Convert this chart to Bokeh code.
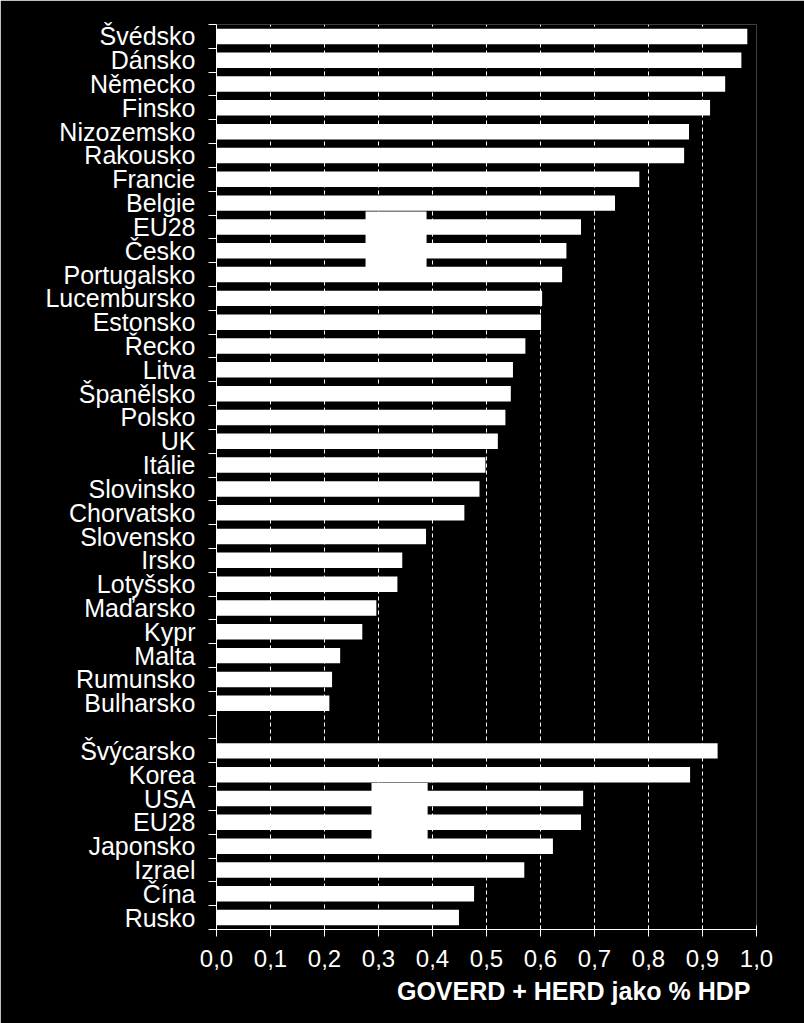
from bokeh.plotting import figure
from bokeh.models import FixedTicker, Range1d, Title
from bokeh.embed import file_html
from bokeh.resources import INLINE

# --- data -----------------------------------------------------------------
eu_countries = ["Švédsko", "Dánsko", "Německo", "Finsko", "Nizozemsko", "Rakousko",
                "Francie", "Belgie", "EU28", "Česko", "Portugalsko", "Lucembursko",
                "Estonsko", "Řecko", "Litva", "Španělsko", "Polsko", "UK", "Itálie",
                "Slovinsko", "Chorvatsko", "Slovensko", "Irsko", "Lotyšsko", "Maďarsko",
                "Kypr", "Malta", "Rumunsko", "Bulharsko"]
eu_values = [0.983, 0.972, 0.942, 0.914, 0.875, 0.866,
             0.783, 0.738, 0.675, 0.648, 0.640, 0.603,
             0.601, 0.572, 0.549, 0.545, 0.535, 0.521, 0.498,
             0.487, 0.459, 0.388, 0.344, 0.335, 0.296,
             0.270, 0.229, 0.214, 0.209]

other_countries = ["Švýcarsko", "Korea", "USA", "EU28", "Japonsko", "Izrael", "Čína", "Rusko"]
other_values = [0.928, 0.877, 0.679, 0.675, 0.623, 0.570, 0.477, 0.449]

x_ticks = [0.0, 0.1, 0.2, 0.3, 0.4, 0.5, 0.6, 0.7, 0.8, 0.9, 1.0]
x_tick_labels = ["0,0", "0,1", "0,2", "0,3", "0,4", "0,5", "0,6", "0,7", "0,8", "0,9", "1,0"]

x_title = "GOVERD + HERD jako % HDP"

# white patches in the picture: (group, first row, last row, left, right)
patch_group = ["eu", "other"]
patch_first = ["EU28", "USA"]
patch_last = ["Česko", "EU28"]
patch_left = [0.276, 0.287]
patch_right = [0.389, 0.391]

# --- layout of rows ---------------------------------------------------------
n_eu = len(eu_countries)
n_other = len(other_countries)
n_slots = n_eu + 1 + n_other
slots = list(range(n_eu)) + [n_eu + 1 + i for i in range(n_other)]
names = eu_countries + other_countries
vals = eu_values + other_values
ycent = [n_slots - s - 0.5 for s in slots]
boundaries = list(range(0, n_slots + 1))

FONT = "Liberation Sans"

p = figure(width=804, height=1023,
           x_range=Range1d(0, 1), y_range=Range1d(0, n_slots),
           output_backend="svg", toolbar_location=None,
           min_border_left=216, min_border_right=48,
           min_border_top=24, min_border_bottom=94,
           background_fill_color="black", border_fill_color="black",
           outline_line_color=None)

p.hbar(y=ycent, left=0, right=vals, height=0.65, fill_color="white", line_color=None)

# patches
pl, pr, pt, pb = [], [], [], []
for g, a, b, l, r in zip(patch_group, patch_first, patch_last, patch_left, patch_right):
    if g == "eu":
        ia = eu_countries.index(a)
        ib = eu_countries.index(b)
    else:
        ia = n_eu + 1 + other_countries.index(a)
        ib = n_eu + 1 + other_countries.index(b)
    pt.append(n_slots - ia + 0.15)
    pb.append(n_slots - ib - 1 - 0.2)
    pl.append(l)
    pr.append(r)
p.quad(left=pl, right=pr, top=pt, bottom=pb, fill_color="white", line_color=None)

# grid
p.xgrid.ticker = FixedTicker(ticks=x_ticks[1:])
p.xgrid.grid_line_color = "white"
p.xgrid.grid_line_dash = "4 3"
p.xgrid.grid_line_width = 1
p.ygrid.grid_line_color = None

# x axis
xa = p.xaxis[0]
xa.ticker = FixedTicker(ticks=x_ticks, minor_ticks=[])
xa.major_label_overrides = {t: l for t, l in zip(x_ticks, x_tick_labels)}
xa.axis_line_color = "white"
xa.major_tick_line_color = "white"
xa.major_tick_in = 4
xa.major_tick_out = 7
xa.minor_tick_line_color = None
xa.major_label_text_color = "white"
xa.major_label_text_font = FONT
xa.major_label_text_font_size = "24px"
xa.major_label_standoff = 13

# y axis
ya = p.yaxis[0]
ya.ticker = FixedTicker(ticks=ycent, minor_ticks=boundaries)
ya.major_label_overrides = {y: n for y, n in zip(ycent, names)}
ya.axis_line_color = "white"
ya.major_tick_line_color = None
ya.major_tick_in = 0
ya.major_tick_out = 7
ya.minor_tick_line_color = "white"
ya.minor_tick_in = 0
ya.minor_tick_out = 8
ya.major_label_text_color = "white"
ya.major_label_text_font = FONT
ya.major_label_text_font_size = "25px"
ya.major_label_standoff = 13

t = Title(text=x_title, align="right", text_color="white", text_font=FONT,
          text_font_size="25px", text_font_style="bold", offset=6)
p.add_layout(t, "below")

open("out.html", "w").write(file_html(p, INLINE))
